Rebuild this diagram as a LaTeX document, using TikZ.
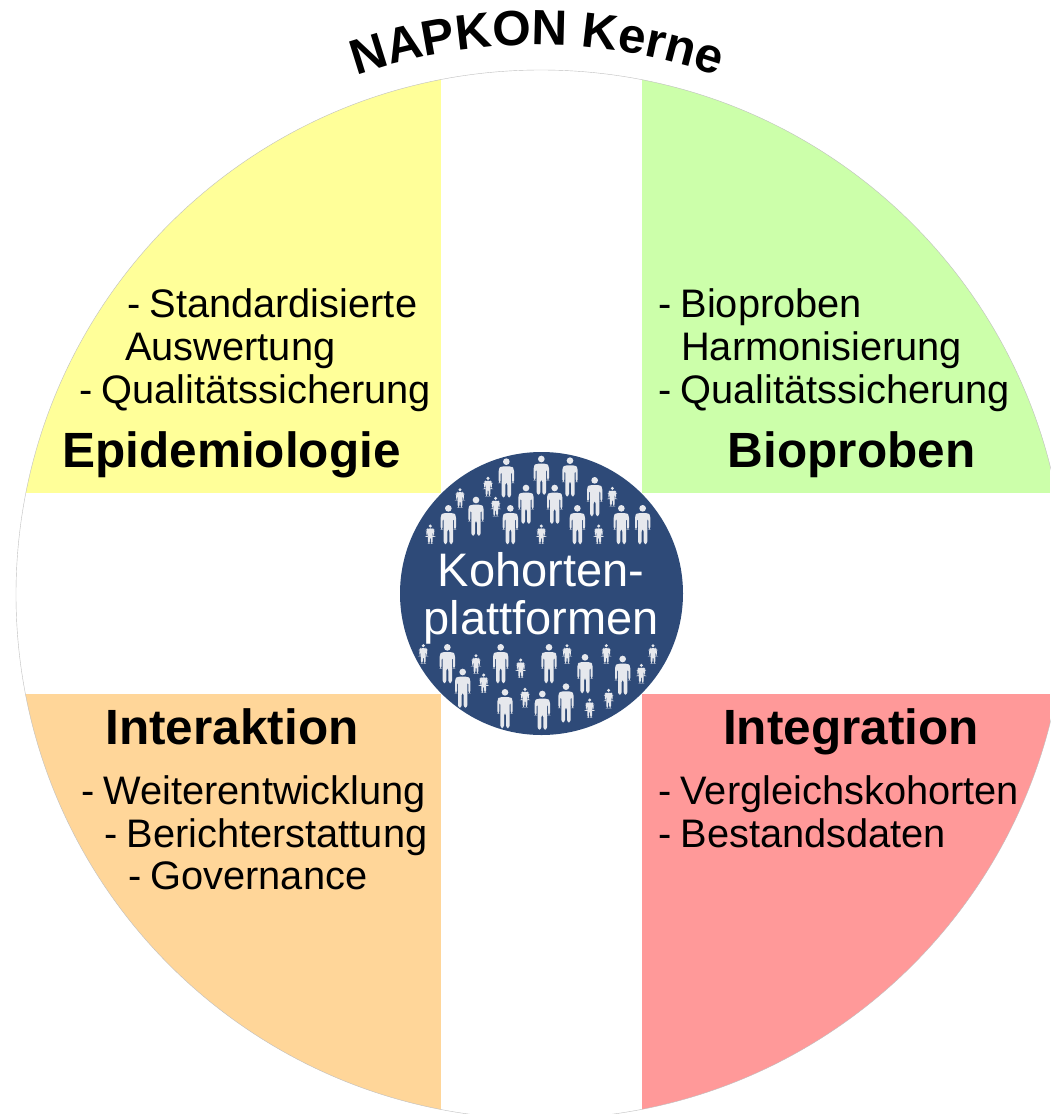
\documentclass[tikz,border=0pt]{standalone}
\usepackage{fontspec}
\setmainfont{Liberation Sans}
\usetikzlibrary{decorations.text}
\definecolor{cyellow}{HTML}{FFFF99}
\definecolor{cgreen}{HTML}{CCFFAA}
\definecolor{corange}{HTML}{FFD699}
\definecolor{cred}{HTML}{FF9999}
\definecolor{cnavy}{HTML}{2E4A78}
\definecolor{cpers}{HTML}{E6E8ED}
\newcommand{\dsh}{-\kern-2pt\ }
\tikzset{
  x=1pt,y=-1pt,
  item/.style={anchor=base west,inner sep=0pt,font=\fontsize{39.8}{39.8}\selectfont,text=black},
  head/.style={anchor=base,inner sep=0pt,font=\fontsize{49.5}{49.5}\selectfont\bfseries,text=black},
  core/.style={anchor=base,inner sep=0pt,font=\fontsize{47}{47}\selectfont,text=white},
  person/.pic={
    \fill[cpers] (0,10) circle[radius=10];
    \fill[cpers,rounded corners=2.5]
      (-16,24)--(16,24)--(23,31)--(23,74)--(17,74)--(17,39)--(14,39)--(14,117)--(3,117)
      --(3,72)--(-3,72)--(-3,117)--(-14,117)--(-14,39)--(-17,39)--(-17,74)--(-23,74)--(-23,31)--cycle;
  }
}
\begin{document}
\begin{tikzpicture}
\useasboundingbox (0,0) rectangle (1050,1114);
\fill[white] (0,0) rectangle (1050,1114);
\begin{scope}
  \clip (541,594.5) ellipse[x radius=525,y radius=524.5];
  \fill[cyellow] (0,0) rectangle (441,493);
  \fill[cgreen] (642,0) rectangle (1050,493);
  \fill[corange] (0,694) rectangle (441,1114);
  \fill[cred] (642,694) rectangle (1050,1114);
\end{scope}
\draw[black!25,line width=0.4pt] (541,594.5) ellipse[x radius=525,y radius=524.5];
\fill[cnavy] (541.5,593.5) circle[radius=141.5];
% upper people (big)
\foreach \a/\b in {319/55,424/47,510/52,378/134,464/134,584/111,228/170,145/195,331/195,532/195,664/195,728/195}
  \pic[transform shape,scale=0.3333] at ({400+\a/3},{440+\b/3}) {person};
\foreach \a/\b in {264/110,180/144,287/170,91/253,424/253,596/253,637/140}
  \pic[transform shape,scale=0.168] at ({400+\a/3},{440+\b/3}) {person};
% lower people
\foreach \a/\b in {142/162,302/162,447/162,555/192,668/197,188/236,498/280,315/297,427/302}
  \pic[transform shape,scale=0.3333] at ({400+\a/3},{590+\b/3}) {person};
\foreach \a/\b in {70/162,228/192,362/205,501/162,619/162,759/162,724/221,251/250,375/293,626/296,569/325}
  \pic[transform shape,scale=0.168] at ({400+\a/3},{590+\b/3}) {person};
% centre
\node[core] (k1) at (541,586) {Kohorten-};
\node[core] (k2) at (541,634) {plattformen};
% headings
\node[head] (ep) at (231.5,467) {Epidemiologie};
\node[head] (bi) at (851.5,467) {Bioproben};
\node[head] (ia) at (232,744) {Interaktion};
\node[head] (ig) at (851,744) {Integration};
% items
\node[item] (e1) at (127,317) {\dsh Standardisierte};
\node[item] (e2) at (125,360) {Auswertung};
\node[item] (e3) at (79,403) {\dsh Qualitätssicherung};
\node[item] (b1) at (658,317) {\dsh Bioproben};
\node[item] (b2) at (681,360) {Harmonisierung};
\node[item] (b3) at (658,403) {\dsh Qualitätssicherung};
\node[item] (i1) at (81,804) {\dsh Weiterentwicklung};
\node[item] (i2) at (104,847) {\dsh Berichterstattung};
\node[item] (i3) at (128,889) {\dsh Governance};
\node[item] (g1) at (658,804) {\dsh Vergleichskohorten};
\node[item] (g2) at (658,847) {\dsh Bestandsdaten};
% curved title
\path[decorate,decoration={text along path,text align=center,
   text={|\fontsize{49.5}{49.5}\selectfont\bfseries|NAPKON Kerne}}]
   plot[smooth,samples=41,domain=-115:-65,variable=\t] ({537+548*cos(\t)},{593+548*sin(\t)});
\end{tikzpicture}
\end{document}
